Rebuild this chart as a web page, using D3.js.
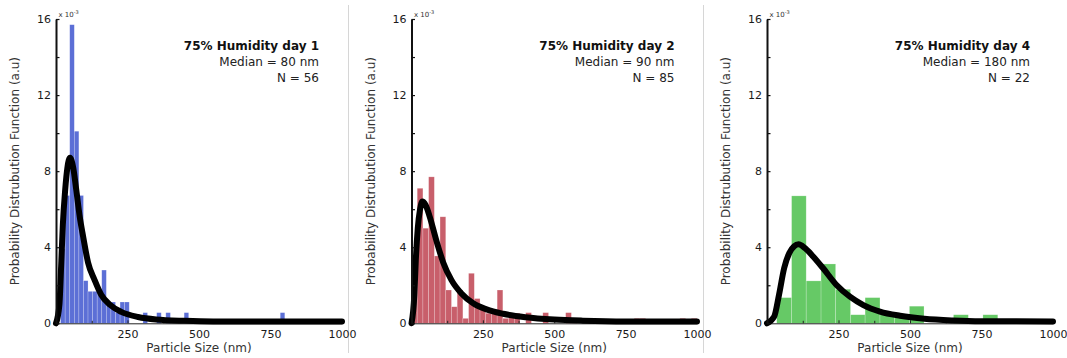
<!DOCTYPE html>
<html><head><meta charset="utf-8">
<script src="https://cdn.jsdelivr.net/npm/d3@7"></script>
<style>
body{margin:0;background:#fff;}
svg{display:block;font-family:"DejaVu Sans",Verdana,sans-serif;}
</style>
</head><body>
<svg id="chart" width="1067" height="358"></svg>
<script>
// ---------------- DATA ----------------
const xTickLabels = [250, 500, 750, 1000];
const xMinorTicks = [125, 375, 625, 875];
const yTickLabels = [0, 4, 8, 12, 16];
const yMinorTicks = [2, 6, 10, 14];

const titles  = ["75% Humidity day 1", "75% Humidity day 2", "75% Humidity day 4"];
const medians = ["Median = 80 nm", "Median = 90 nm", "Median = 180 nm"];
const counts  = ["N = 56", "N = 85", "N = 22"];

// Histogram bin edges (nm) and bar heights (x10^-3)
const day1Edges = [0,16,32,48,64,80,96,112,128,144,160,176,192,208,224,240,256,272,288,304,320,336,352,368,384,400,416,432,448,464,480,496,512,528,544,560,576,592,608,624,640,656,672,688,704,720,736,752,768,784,800];
const day1Heights = [0,3.92,6.72,15.7,10.1,6.72,2.24,1.68,1.68,1.68,2.8,1.12,1.12,0.56,1.12,1.12,0,0,0,0.56,0,0,0.56,0,0.56,0,0,0,0.56,0,0,0,0,0,0,0,0,0,0,0,0,0,0,0,0,0,0,0,0,0.56];

const day2Edges = [0,20,40,60,80,100,120,140,160,180,200,220,240,260,280,300,320,340,360,380,400,420,440,460,480,500,520,540,560,580,600,620,640,660,680,700,720,740,760,780,800,820,840,860,880,900,920,940,960,980,1000];
const day2Heights = [3.24,7.1,5.0,7.7,3.54,5.6,1.75,0.87,1.75,0.26,2.63,1.3,0.87,0.53,0.53,1.75,0.26,0.53,0.53,0,0.56,0,0,0.56,0,0,0,0.56,0.26,0,0,0.26,0,0,0,0,0,0,0,0.26,0.26,0,0,0,0,0,0,0.26,0,0.26];

const day4Edges = [34,86,137,189,240,292,343,395,446,498,549,601,652,704,755,807];
const day4Heights = [1.35,6.7,2.23,3.12,1.79,0.45,1.35,0.45,0.45,0.9,0,0,0.45,0,0.45];

// Fitted curves: [size nm, pdf x10^-3]
const day1Curve = [[0,0],[12,1.0],[18,3.0],[24,5.2],[32,7.0],[40,8.2],[49,8.7],[60,8.2],[71,7.0],[83,5.6],[95,4.55],[112,3.2],[135,2.27],[158,1.5],[188,0.98],[228,0.6],[287,0.33],[350,0.2],[450,0.13],[550,0.1],[700,0.1],[1000,0.1]];
const day2Curve = [[0,0],[10,1.5],[15,3.3],[22,5.0],[30,6.0],[38,6.4],[50,6.2],[64,5.6],[88,4.3],[111,3.2],[140,2.27],[175,1.57],[216,1.05],[263,0.73],[321,0.5],[400,0.32],[500,0.2],[600,0.14],[750,0.1],[1000,0.1]];
const day4Curve = [[0,0],[25,0.35],[42,1.5],[60,2.9],[78,3.7],[95,4.05],[110,4.15],[133,3.95],[162,3.5],[197,2.88],[244,2.0],[290,1.4],[337,0.96],[395,0.62],[465,0.4],[550,0.24],[650,0.15],[750,0.11],[1000,0.1]];

// ---------------- LAYOUT ----------------
const panels = [
  {x0: 56,    x1: 342,  color: "#5c6fd6", edges: day1Edges, heights: day1Heights, curve: day1Curve},
  {x0: 411.5, x1: 697,  color: "#c85f6b", edges: day2Edges, heights: day2Heights, curve: day2Curve},
  {x0: 767,   x1: 1053, color: "#66c966", edges: day4Edges, heights: day4Heights, curve: day4Curve}
];
const yBottom = 323.3, yTop = 19;

const svg = d3.select("#chart");
svg.append("rect").attr("width",1067).attr("height",358).attr("fill","#fff");

// panel separators
[348.5, 703.5].forEach(px => {
  svg.append("line").attr("x1",px).attr("x2",px).attr("y1",5).attr("y2",353)
     .attr("stroke","#d6d6d6").attr("stroke-width",1);
});

panels.forEach((p, i) => {
  const x = d3.scaleLinear().domain([0,1000]).range([p.x0, p.x1]);
  const y = d3.scaleLinear().domain([0,16]).range([yBottom, yTop]);
  const g = svg.append("g");

  // bars
  const bars = p.heights.map((h, k) => ({a: p.edges[k], b: p.edges[k+1], h}));
  g.append("g").selectAll("rect").data(bars.filter(d => d.h > 0)).join("rect")
    .attr("x", d => x(d.a))
    .attr("width", d => x(d.b) - x(d.a))
    .attr("y", d => y(d.h))
    .attr("height", d => y(0) - y(d.h))
    .attr("fill", p.color)
    .attr("stroke", "#ffffff").attr("stroke-opacity", 0.35).attr("stroke-width", 0.6);

  // x axis
  const xAxis = g.append("g").attr("transform", `translate(0,${yBottom})`)
    .call(d3.axisBottom(x).tickValues(xTickLabels).tickSize(-3).tickSizeOuter(0).tickPadding(7).tickFormat(d3.format("d")));
  xAxis.select(".domain").attr("stroke","#222").attr("stroke-width",1);
  xAxis.selectAll(".tick line").attr("stroke","#222");
  xAxis.selectAll("text").attr("font-size",11).attr("fill","#1a1a1a").attr("font-family","DejaVu Sans, sans-serif");
  const xMinor = g.append("g").attr("transform", `translate(0,${yBottom})`)
    .call(d3.axisBottom(x).tickValues(xMinorTicks).tickSize(-2.5).tickFormat(""));
  xMinor.select(".domain").remove();
  xMinor.selectAll(".tick line").attr("stroke","#222");

  // curve
  const line = d3.line().x(d => x(d[0])).y(d => y(d[1])).curve(d3.curveMonotoneX);
  g.append("path").datum(p.curve).attr("d", line)
    .attr("fill","none").attr("stroke","#000").attr("stroke-width",6)
    .attr("stroke-linejoin","round").attr("stroke-linecap","round");

  // y axis
  const yAxis = g.append("g").attr("transform", `translate(${p.x0},0)`)
    .call(d3.axisLeft(y).tickValues(yTickLabels).tickSize(-3.5).tickSizeOuter(0).tickPadding(5).tickFormat(d3.format("d")));
  yAxis.select(".domain").attr("stroke","#111").attr("stroke-width",2);
  yAxis.selectAll(".tick line").attr("stroke","#111").attr("stroke-width",1.2);
  yAxis.selectAll("text").attr("font-size",11).attr("fill","#1a1a1a").attr("font-family","DejaVu Sans, sans-serif");
  const yMinor = g.append("g").attr("transform", `translate(${p.x0},0)`)
    .call(d3.axisLeft(y).tickValues(yMinorTicks).tickSize(-3.5).tickFormat(""));
  yMinor.select(".domain").remove();
  yMinor.selectAll(".tick line").attr("stroke","#111").attr("stroke-width",1.2);

  // exponent
  const ex = g.append("text").attr("x", p.x0 + 2.5).attr("y", 16.5)
    .attr("font-size", 7).attr("fill","#333");
  ex.append("tspan").text("x 10");
  ex.append("tspan").attr("dy", -3).attr("font-size", 5).text("-3");

  // annotation
  const tx = p.x0 + 263;
  g.append("text").attr("x", tx).attr("y", 50).attr("text-anchor","end")
    .attr("font-size", 12).attr("font-weight","bold").attr("fill","#111").text(titles[i]);
  g.append("text").attr("x", tx).attr("y", 66).attr("text-anchor","end")
    .attr("font-size", 12).attr("fill","#222").text(medians[i]);
  g.append("text").attr("x", tx).attr("y", 82).attr("text-anchor","end")
    .attr("font-size", 12).attr("fill","#222").text(counts[i]);

  // axis titles
  g.append("text").attr("x", (p.x0 + p.x1) / 2).attr("y", 352).attr("text-anchor","middle")
    .attr("font-size", 12).attr("fill","#333").text("Particle Size (nm)");
  g.append("text").attr("transform", `translate(${p.x0 - 37},${(yTop + yBottom) / 2}) rotate(-90)`)
    .attr("text-anchor","middle").attr("font-size", 12).attr("fill","#333")
    .text("Probability Distrubution Function (a.u)");
});
</script>
</body></html>
